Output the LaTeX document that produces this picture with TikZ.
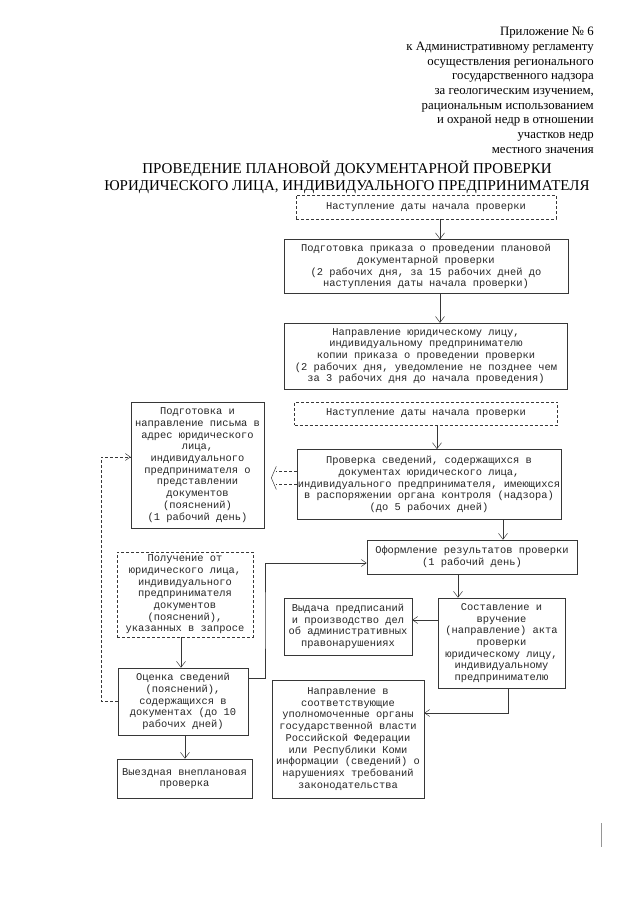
\documentclass[tikz,border=0pt]{standalone}
\usepackage{fontspec}
\setmainfont{Liberation Serif}
\setmonofont{Liberation Mono}
\usepackage{tikz}
\usetikzlibrary{positioning,calc,arrows.meta}
\definecolor{inkgray}{RGB}{55, 55, 55}
\definecolor{scangray}{RGB}{150, 150, 150}

\begin{document}
\begin{tikzpicture}[
  x=1pt, y=-1pt,
  box/.style={rectangle, draw=inkgray, line width=0.6pt, align=center, inner sep=1pt,
              font=\ttfamily\fontsize{10.4}{11.7}\selectfont, text=black!85},
  dbox/.style={box, dash pattern=on 3pt off 2pt},
  arrow/.style={-{Straight Barb[length=6pt,width=9pt]}, line width=0.5pt, draw=inkgray},
  sidearrow/.style={-{Straight Barb[length=5pt,width=7pt]}, line width=0.5pt, draw=inkgray},
  dashline/.style={dash pattern=on 3pt off 2pt, line width=0.5pt, draw=inkgray}
]
\useasboundingbox (0,0) rectangle (640,905);

\node[anchor=north east, align=right, inner sep=0pt, font=\fontsize{12.8}{14.7}\selectfont] (annex) at (594,27)
  {Приложение № 6\\к Административному регламенту\\осуществления регионального\\государственного надзора\\за геологическим изучением,\\рациональным использованием\\и охраной недр в отношении\\участков недр\\местного значения};
\node[align=center, inner sep=0pt, font=\fontsize{15}{17}\selectfont] (title) at (347,177)
  {ПРОВЕДЕНИЕ ПЛАНОВОЙ ДОКУМЕНТАРНОЙ ПРОВЕРКИ\\ЮРИДИЧЕСКОГО ЛИЦА, ИНДИВИДУАЛЬНОГО ПРЕДПРИНИМАТЕЛЯ};

\node[dbox, minimum width=260pt, minimum height=24pt] (start1) at (426,207) {Наступление даты начала проверки};
\node[box, minimum width=284pt, minimum height=54pt, below=20pt of start1] (order)
  {Подготовка приказа о проведении плановой\\документарной проверки\\(2 рабочих дня, за 15 рабочих дней до\\наступления даты начала проверки)};
\node[box, minimum width=283pt, minimum height=66pt, below=29pt of order] (notice)
  {Направление юридическому лицу,\\индивидуальному предпринимателю\\копии приказа о проведении проверки\\(2 рабочих дня, уведомление не позднее чем\\за 3 рабочих дня до начала проведения)};
\node[dbox, minimum width=263pt, minimum height=23pt, below=12pt of notice] (start2) {Наступление даты начала проверки};
\node[box, minimum width=262pt, minimum height=70pt, below=24pt of start2, xshift=3pt] (check)
  {Проверка сведений, содержащихся в\\документах юридического лица,\\индивидуального предпринимателя, имеющихся\\в распоряжении органа контроля (надзора)\\(до 5 рабочих дней)};

\node[box, minimum width=133pt, minimum height=126pt] (letter) at (197.5,465)
  {Подготовка и\\направление письма в\\адрес юридического\\лица,\\индивидуального\\предпринимателя о\\представлении\\документов\\(пояснений)\\(1 рабочий день)};
\node[dbox, minimum width=136pt, minimum height=85pt] (receive) at (185,594.5)
  {Получение от\\юридического лица,\\индивидуального\\предпринимателя\\документов\\(пояснений),\\указанных в запросе};
\node[box, minimum width=130pt, minimum height=67pt] (assess) at (183,701.5)
  {Оценка сведений\\(пояснений),\\содержащихся в\\документах (до 10\\рабочих дней)};
\node[box, minimum width=135pt, minimum height=39pt] (visit) at (184.5,778.5)
  {Выездная внеплановая\\проверка};

\node[box, minimum width=210pt, minimum height=34pt] (result) at (472,557)
  {Оформление результатов проверки\\(1 рабочий день)};
\node[box, minimum width=127pt, minimum height=90pt] (act) at (501.5,643)
  {Составление и\\вручение\\(направление) акта\\проверки\\юридическому лицу,\\индивидуальному\\предпринимателю};
\node[box, minimum width=128pt, minimum height=57pt] (prescr) at (348,626.5)
  {Выдача предписаний\\и производство дел\\об административных\\правонарушениях};
\node[box, minimum width=152pt, minimum height=118pt] (inform) at (348,739)
  {Направление в\\соответствующие\\уполномоченные органы\\государственной власти\\Российской Федерации\\или Республики Коми\\информации (сведений) о\\нарушениях требований\\законодательства};

\draw[arrow] ([xshift=14pt]start1.south) -- ([xshift=14pt]order.north);
\draw[arrow] ([xshift=14pt]order.south) -- ([xshift=14pt]notice.north);
\draw[arrow] ([xshift=11pt]start2.south) -- ([xshift=8pt]check.north);
\draw[arrow] ([xshift=74pt]check.south) -- ([xshift=31pt]result.north);
\draw[arrow] ([xshift=-14pt]result.south) -- ([xshift=-43.5pt]act.north);
\draw[arrow] ([xshift=-4pt]receive.south) -- ([xshift=-2pt]assess.north);
\draw[arrow] ([xshift=2pt]assess.south) -- ([xshift=0.5pt]visit.north);
\draw[sidearrow] ([yshift=23pt]act.west) -- ([yshift=6.5pt]prescr.east);
\draw[sidearrow] ([xshift=6.5pt]act.south) |- ([yshift=26pt]inform.east);

\coordinate (bendR) at (265,620);
\draw[sidearrow] ([yshift=23.5pt]assess.east) -| (bendR) |- ([yshift=-6pt]result.west);
\coordinate (bendL) at (101,600);
\draw[sidearrow, dashline] (assess.west) -| (bendL) |- ([yshift=8pt]letter.west);

\coordinate (twin) at (letter.east |- check.west);
\draw[dashline] ([yshift=13pt]check.west) -- ($(twin)+(12,-13)$);
\draw[dashline] (check.west) -- ($(twin)+(12,0)$);
\draw[line width=0.5pt, draw=inkgray] ($(twin)+(12,-18)$) -- ($(twin)+(7,-6.5)$) -- ($(twin)+(12,5)$);

\draw[scangray, line width=0.6pt] (601,823) -- (601,847);
\end{tikzpicture}
\end{document}
